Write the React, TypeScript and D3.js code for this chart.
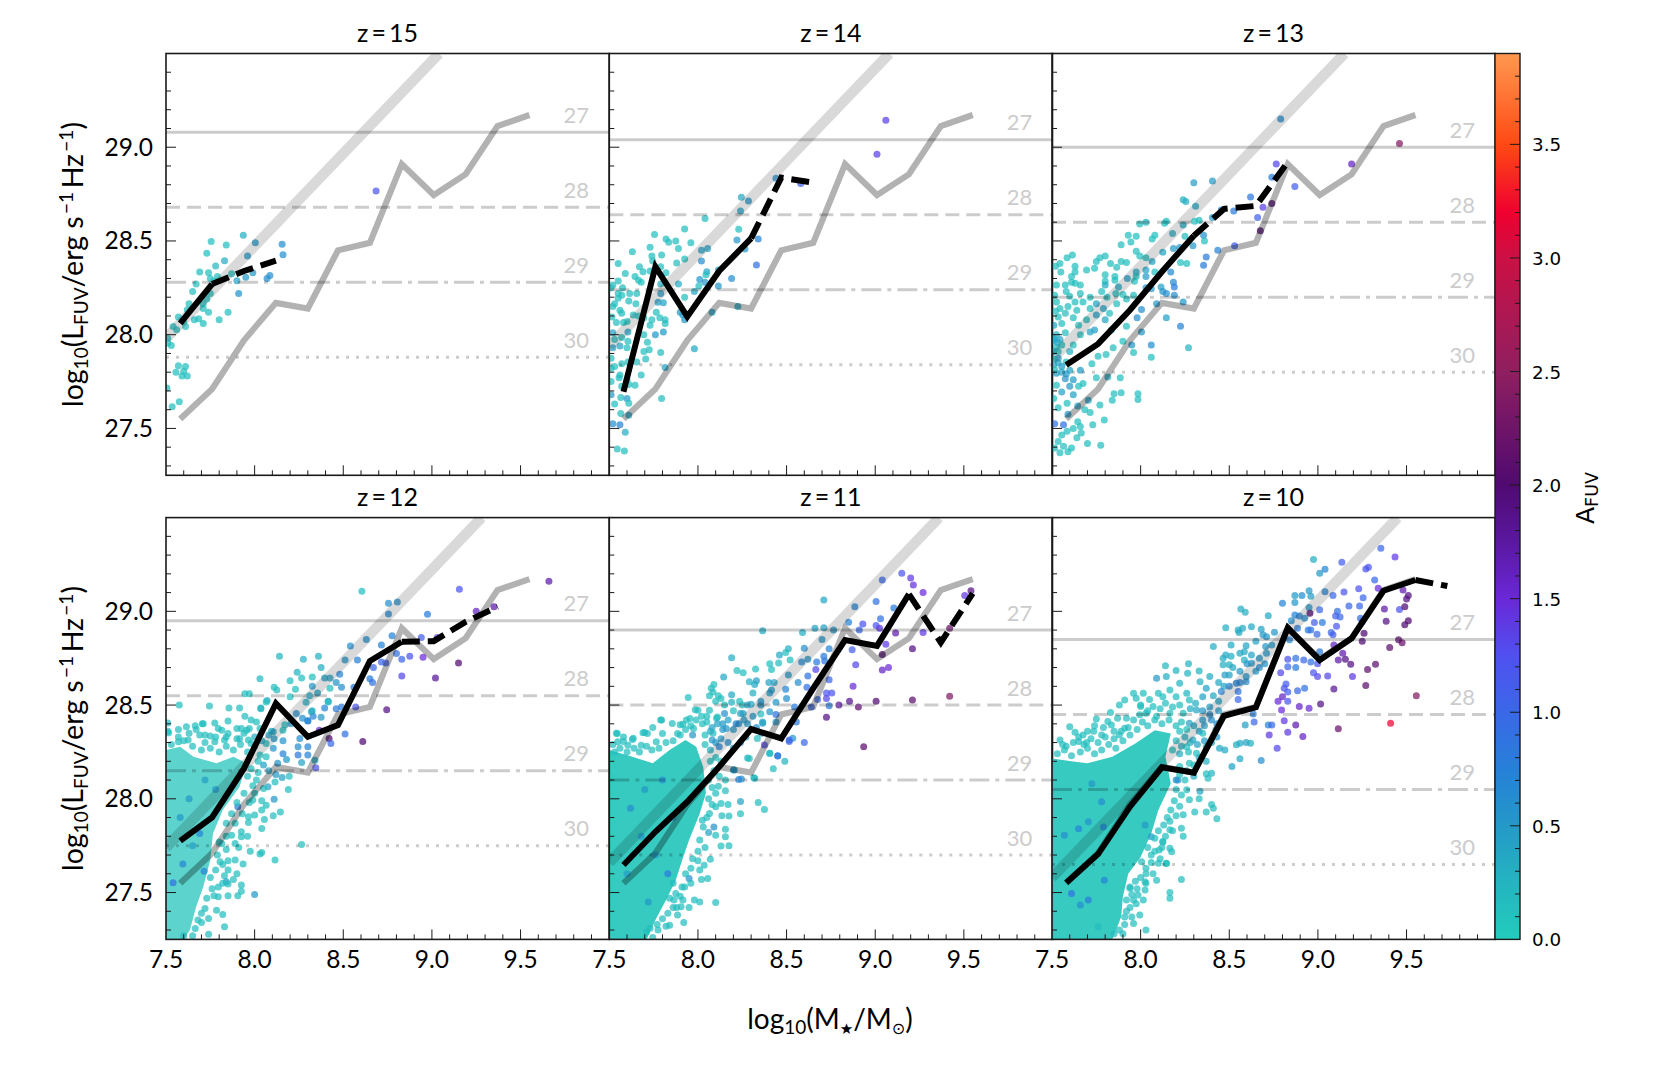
import React from 'react';
import * as d3 from 'd3';

type Pt = number[];

const redshifts = [15, 14, 13, 12, 11, 10];
const xBins = [7.58, 7.76, 7.94, 8.12, 8.30, 8.47, 8.65, 8.83, 9.01, 9.19, 9.37, 9.55, 9.73];

// z=10 median, repeated as the grey reference line in every panel
const refMedian = [27.55, 27.71, 27.97, 28.17, 28.14, 28.45, 28.49, 28.91, 28.745, 28.856, 29.113, 29.172];

const medianZ15 = [28.06, 28.27, 28.34, 28.395];
const medianZ14 = [27.696, 28.363, 28.096, 28.34, 28.514, 28.838, 28.811];
const medianZ13 = [27.839, 27.951, 28.132, 28.336, 28.528, 28.671, 28.687, 28.92];
const medianZ12 = [27.776, 27.901, 28.162, 28.509, 28.331, 28.393, 28.735, 28.838, 28.841, 28.944, 29.024];
const medianZ11 = [27.647, 27.824, 27.984, 28.171, 28.372, 28.322, 28.589, 28.847, 28.816, 29.092, 28.834, 29.096];
const medianZ10 = [27.552, 27.705, 27.958, 28.168, 28.139, 28.443, 28.488, 28.912, 28.74, 28.856, 29.11, 29.167, 29.135];
const medians = [medianZ15, medianZ14, medianZ13, medianZ12, medianZ11, medianZ10];
// how many bins of each median are drawn solid, the rest is dashed
const solidBins = [2, 5, 5, 8, 10, 12];

// magnitude limit lines, one row per panel: 27, 28, 29, 30
const limitNames = ['27', '28', '29', '30'];
const limitDash = ['', '14 7', '20 6 4 6', '3 7'];
const limits = [
  [29.08, 28.68, 28.28, 27.88],
  [29.04, 28.64, 28.24, 27.84],
  [29.0, 28.6, 28.2, 27.8],
  [28.95, 28.55, 28.15, 27.75],
  [28.9, 28.5, 28.1, 27.7],
  [28.85, 28.45, 28.05, 27.65],
];

// broad relation: value at the left edge and mass where it leaves the top
const relationLeft = [27.98, 27.94, 27.87, 27.74, 27.66, 27.58];
const relationTop = [9.04, 9.08, 9.15, 9.28, 9.36, 9.45];

const colorStops = [0, 0.25, 0.5, 0.75, 1.0, 1.25, 1.5, 1.75, 2.0, 2.5, 3.0, 3.2, 3.5, 3.9];
const colorValues = ['#22ccbc', '#24b4c0', '#2499c8', '#2680d8', '#3a68e8', '#5050f0', '#6a28d8', '#5a18a0', '#4f0a70', '#8f1f60', '#cc1044', '#f00030', '#ff4a14', '#ff9850'];

// outlines of the regions where dots merge into a solid mass
const massZ12 = [[7.5, 28.26], [7.58, 28.277], [7.655, 28.224], [7.785, 28.19], [7.88, 28.224], [7.955, 28.19], [7.915, 28.064], [7.82, 27.94], [7.765, 27.815], [7.75, 27.673], [7.71, 27.53], [7.67, 27.424], [7.635, 27.3], [7.6, 27.25], [7.5, 27.25]];
const massZ11 = [[7.5, 28.26], [7.63, 28.224], [7.745, 28.19], [7.84, 28.26], [7.93, 28.313], [7.99, 28.277], [8.03, 28.17], [8.045, 28.03], [8.01, 27.92], [7.95, 27.78], [7.91, 27.67], [7.875, 27.566], [7.82, 27.46], [7.76, 27.353], [7.71, 27.25], [7.5, 27.25]];
const massZ10 = [[7.5, 28.215], [7.63, 28.197], [7.7, 28.19], [7.84, 28.224], [7.97, 28.295], [8.08, 28.366], [8.17, 28.348], [8.14, 28.224], [8.17, 28.08], [8.1, 27.94], [8.06, 27.815], [8.0, 27.69], [7.93, 27.6], [7.9, 27.477], [7.89, 27.37], [7.84, 27.25], [7.5, 27.25]];
const masses: number[][][] = [[], [], [], massZ12, massZ11, massZ10];

// [log mass, log luminosity, A_FUV]; A_FUV left out means the teal end (0.15)
const pointsZ15: Pt[] = [[7.755,28.497],[7.936,28.53,.3],[7.84,28.478],[8.004,28.49,.5],[8.155,28.483,.6],[8.16,28.426,.6],[7.73,28.435],[7.96,28.42,.5],[7.83,28.394,.3],[7.78,28.366,.2],[7.69,28.334],[7.74,28.33],[7.87,28.325],[7.79,28.31],[7.75,28.3],[7.77,28.285],[7.67,28.27],[7.95,28.307,.5],[7.99,28.33,.5],[8.07,28.3,.6],[8.086,28.316,.6],[7.9,28.288,.4],[7.91,28.22,.55],[7.65,28.23],[7.75,28.22],[7.73,28.19],[7.71,28.165],[7.63,28.165],[7.62,28.133],[7.71,28.14],[7.74,28.12],[7.85,28.12],[7.8,28.08],[7.57,28.094],[7.66,28.08],[7.685,28.085],[7.71,28.06],[7.6,28.07],[7.54,28.044],[7.61,28.044],[7.56,28.027],[7.51,27.98],[7.53,27.943],[7.51,27.956],[7.57,27.835],[7.61,27.83],[7.556,27.8],[7.6,27.805],[7.59,27.78],[7.62,27.78],[7.505,27.716],[7.535,27.616],[7.575,27.643],[8.685,28.767,1.2]];

const pointsZ14: Pt[] = [[9.06,29.144,1.35],[9.01,28.962,1.35],[8.44,28.834,.6],[8.58,28.807,1.1],[8.245,28.733,.35],[8.285,28.713,.55],[8.24,28.66,.4],[8.04,28.62],[7.925,28.564],[8.23,28.562],[8.22,28.505,.5],[8.34,28.51,.7],[8.265,28.457,.5],[7.96,28.49],[7.755,28.535],[7.82,28.51],[7.835,28.493],[7.875,28.5],[7.89,28.46],[8.02,28.45,.4],[8.055,28.46,.4],[7.73,28.466],[7.63,28.443],[7.74,28.42],[7.795,28.425],[7.745,28.393],[7.925,28.404],[8.02,28.393,.6],[7.88,28.383],[7.55,28.38],[7.67,28.363],[7.79,28.363],[8.33,28.372,.9],[7.69,28.336],[7.73,28.34],[7.645,28.31],[7.82,28.33],[7.59,28.326],[8.05,28.336,.4],[8.045,28.32],[8.115,28.345,.4],[7.665,28.29],[7.68,28.28],[7.55,28.287],[8.01,28.295,.5],[8.04,28.28,.5],[8.19,28.3,.6],[7.52,28.265],[7.79,28.27,.3],[7.89,28.27,.3],[8.115,28.26,.5],[8.005,28.26],[7.51,28.25],[7.575,28.25],[7.98,28.23,.35],[7.55,28.22],[7.615,28.22],[7.655,28.22],[7.79,28.22,.5],[7.57,28.21],[7.925,28.2],[7.55,28.195],[7.61,28.18],[7.65,28.165],[7.53,28.165],[7.52,28.15],[7.775,28.173,.45],[7.805,28.17,.4],[8.225,28.15,.35],[7.56,28.13],[7.57,28.115],[7.765,28.12],[7.9,28.12,.5],[7.915,28.105,.5],[8.08,28.12,.4],[7.635,28.105],[7.665,28.1],[7.515,28.095],[7.695,28.09],[7.785,28.09],[7.925,28.08,.5],[7.74,28.08],[7.54,28.065],[7.58,28.065],[7.815,28.08],[7.815,28.06],[7.6,28.07],[7.73,28.05],[7.76,28.0,.5],[7.805,28.015,.5],[7.695,28.0],[7.52,28.01,.4],[7.57,27.985],[7.605,28.015,.4],[7.715,27.96],[7.605,27.965],[7.53,27.975],[7.52,27.93,.4],[7.56,27.94,.4],[7.6,27.93],[7.725,27.92],[7.98,27.925,.35],[7.695,27.91],[7.79,27.905],[7.51,27.875],[7.705,27.87],[7.655,27.855],[7.605,27.855],[7.53,27.83],[7.57,27.845],[7.815,27.825,.4],[7.51,27.82],[7.68,27.785],[7.56,27.785],[7.555,27.77],[7.51,27.75],[7.6,27.76],[7.61,27.735],[7.645,27.73],[7.57,27.725],[7.51,27.68,.5],[7.565,27.665],[7.6,27.66,.5],[7.795,27.66],[7.53,27.63],[7.61,27.635],[7.565,27.58],[7.61,27.57,.4],[7.52,27.525,.6],[7.56,27.52,.7],[7.59,27.48,.3],[7.545,27.39],[7.585,27.38]];

const pointsZ13: Pt[] = [[8.79,29.15,.65],[8.765,28.91,1.3],[9.19,28.91,1.6],[9.46,29.02,2.4],[8.87,28.79,1.1],[8.74,28.84,.75],[8.62,28.735,.85],[8.3,28.81,.45],[8.405,28.82,.5],[8.24,28.72,.3],[8.255,28.71,.3],[8.31,28.685,.35],[8.455,28.665,.7],[8.525,28.66,.8],[8.69,28.68,1.35],[8.74,28.7,2.0],[8.66,28.625,1.1],[8.405,28.625,.5],[8.675,28.555,2.0],[8.53,28.475,1.1],[8.03,28.6,.25],[8.145,28.605],[7.995,28.59],[8.135,28.595],[8.24,28.585,.35],[8.305,28.605],[8.33,28.61],[8.18,28.54,.3],[7.93,28.53],[7.975,28.525],[8.08,28.53],[8.065,28.51],[8.25,28.525],[8.355,28.53,.6],[8.36,28.5],[7.89,28.48],[7.945,28.495],[8.185,28.46,.5],[8.22,28.465,.5],[8.295,28.475,.5],[8.435,28.45,.7],[7.975,28.445],[8.125,28.44,.4],[8.37,28.415,.8],[8.355,28.37,.8],[8.225,28.385],[8.26,28.38],[7.995,28.42],[8.03,28.41],[8.065,28.39,.4],[7.615,28.425],[7.585,28.41],[7.8,28.42],[7.77,28.41],[7.75,28.39],[7.89,28.39],[7.92,28.385],[7.83,28.38],[7.545,28.38],[7.52,28.365],[7.63,28.365],[7.865,28.36],[7.74,28.355],[7.695,28.345],[7.55,28.335],[7.63,28.335],[7.975,28.335,.35],[8.03,28.345,.4],[8.08,28.335],[8.17,28.335,.65],[7.61,28.31],[7.8,28.32],[7.855,28.31],[7.925,28.3,.45],[7.975,28.31],[7.8,28.285],[7.855,28.29],[7.965,28.285],[8.03,28.31,.5],[8.185,28.28,.65],[7.525,28.265],[7.575,28.265],[7.63,28.275],[7.66,28.265],[7.61,28.28],[8.19,28.255,.8],[7.8,28.265,.35],[7.875,28.255,.35],[8.115,28.255,.4],[8.03,28.25,.5],[8.06,28.245,.5],[8.125,28.23,.55],[8.19,28.21,.6],[8.145,28.22,.6],[7.58,28.23],[7.66,28.22],[7.78,28.23],[7.86,28.22],[7.9,28.215],[7.96,28.21],[7.515,28.21],[7.6,28.205],[7.715,28.2],[7.81,28.2],[7.92,28.19],[7.525,28.175],[7.63,28.175],[7.675,28.175],[7.75,28.165,.4],[7.865,28.165],[8.09,28.165,.5],[8.24,28.175,.5],[7.545,28.14],[7.59,28.15],[7.64,28.13],[7.715,28.14],[7.79,28.14,.4],[8.005,28.135,.6],[7.52,28.125],[7.575,28.115],[7.75,28.105,.4],[7.825,28.115],[7.98,28.09,.6],[8.145,28.09,.4],[7.535,28.095],[7.62,28.09],[7.695,28.08],[7.8,28.08,.35],[7.92,28.045],[7.555,28.06],[7.51,28.05,.4],[7.65,28.05],[7.74,28.025,.45],[7.835,28.025],[8.005,28.015,.5],[8.225,28.045,.7],[7.525,28.0,.3],[7.575,28.01],[7.66,28.0],[7.715,28.015,.4],[7.51,27.98,.3],[7.545,27.975,.4],[7.9,27.965],[7.95,27.945,.5],[8.06,27.945,.6],[7.62,27.945],[7.525,27.935],[7.845,27.93],[8.27,27.93,.25],[7.96,27.905],[7.6,27.91,.3],[7.805,27.895],[7.76,27.885],[8.06,27.88],[7.535,27.875,.5],[7.58,27.855],[7.51,27.84,.3],[7.555,27.83,.5],[7.725,27.845],[7.6,27.81,.4],[7.66,27.81,.5],[7.525,27.795,.5],[7.815,27.775,.3],[7.885,27.77],[7.75,27.77],[7.575,27.765,.5],[7.62,27.76,.5],[7.675,27.74],[7.525,27.73],[7.6,27.725,.5],[7.65,27.725],[7.555,27.695,.4],[7.89,27.69],[7.985,27.685],[7.85,27.685],[7.62,27.68,.4],[7.51,27.66],[7.985,27.655],[7.84,27.65],[7.585,27.635],[7.705,27.65,.4],[7.535,27.61],[7.77,27.625],[7.645,27.62,.4],[7.685,27.6],[7.715,27.585],[7.59,27.575,.5],[7.515,27.525,.9],[7.565,27.52,.9],[7.795,27.545],[7.645,27.535],[7.66,27.51],[7.73,27.52],[7.62,27.5],[7.585,27.485],[7.665,27.475],[7.555,27.465],[7.64,27.45],[7.7,27.42],[7.775,27.41],[7.535,27.43],[7.565,27.405],[7.61,27.395],[7.515,27.395],[7.59,27.375],[7.545,27.37],[7.51,27.97,.35],[7.53,27.96,.4],[7.555,27.945],[7.51,27.91,.4],[7.535,27.91],[7.51,27.87],[7.535,27.85,.4],[7.515,27.815],[7.555,27.8,.4],[7.58,27.79,.5]];

const pointsZ12: Pt[] = [[8.605,29.107,.15],[9.155,29.118,1.2],[8.755,29.043,.6],[8.805,29.05,.6],[9.66,29.16,1.7],[9.25,29.0,1.6],[8.755,28.986,.65],[8.975,28.985,.8],[9.35,29.025,1.7],[8.775,28.87,.7],[8.94,28.86,1.1],[9.03,28.86,1.3],[8.63,28.85,.6],[8.715,28.82,.7],[8.54,28.815,.6],[8.8,28.775,.9],[8.14,28.76,.25],[8.36,28.76,.3],[8.275,28.745,.3],[8.83,28.745,1.0],[8.875,28.76,1.2],[8.95,28.755,1.5],[9.15,28.725,2.0],[8.51,28.74,.55],[8.58,28.74,.75],[8.715,28.73,1.0],[8.74,28.725,1.1],[8.375,28.7,.3],[8.67,28.7,1.0],[8.48,28.665,.7],[8.24,28.675,.25],[8.83,28.655,1.3],[9.02,28.645,1.8],[8.03,28.64,.2],[8.265,28.645],[8.325,28.65],[8.395,28.645,.4],[8.425,28.645,.4],[8.65,28.64,.8],[8.665,28.62,.9],[8.2,28.63],[8.46,28.62,.55],[8.325,28.6,.5],[8.49,28.595,.6],[8.56,28.595,.8],[8.11,28.595],[8.125,28.58],[8.23,28.585],[8.425,28.59],[7.97,28.56],[7.945,28.56],[8.355,28.565,.4],[8.31,28.55,.35],[8.29,28.515,.3],[8.2,28.545],[8.07,28.525,.35],[8.415,28.52,.55],[7.575,28.5],[7.745,28.495],[7.855,28.485],[7.915,28.485],[8.035,28.485,.4],[8.395,28.485,.7],[8.46,28.48,.8],[8.49,28.49,.8],[8.57,28.49,1.2],[8.745,28.475,1.9],[8.325,28.47,.25],[8.235,28.455,.6],[8.17,28.395],[7.945,28.44],[8.01,28.41],[7.85,28.415],[7.775,28.405],[7.71,28.4],[7.665,28.39],[7.615,28.385],[7.57,28.37],[7.51,28.405],[7.51,28.36],[8.33,28.44,.7],[8.3,28.415,.7],[8.375,28.435,.5],[8.27,28.43,.6],[8.095,28.36,.25],[7.795,28.375],[7.815,28.365],[7.9,28.375],[7.97,28.375],[7.67,28.37],[7.705,28.4],[7.69,28.34],[7.625,28.313],[7.57,28.304],[7.515,28.352],[7.75,28.335],[7.72,28.3],[7.85,28.348],[7.83,28.313],[7.775,28.304],[7.98,28.42],[7.925,28.375],[7.955,28.366],[8.03,28.375],[7.965,28.313],[7.915,28.32],[7.98,28.295],[8.065,28.295],[8.105,28.357,.4],[8.16,28.366],[8.205,28.4,.5],[8.065,28.517],[8.035,28.48],[8.32,28.464,.35],[8.3,28.416,.7],[8.415,28.517],[8.51,28.345,.9],[8.365,28.366,1.5],[8.42,28.322,2.0],[8.43,28.295,1.0],[8.61,28.306,2.0],[8.255,28.322,.6],[8.245,28.277,.6],[8.3,28.277,.7],[8.245,28.233,.8],[8.3,28.233,.7],[8.265,28.194,.4],[8.34,28.206,.35],[8.345,28.165,1.2],[8.105,28.27,.55],[8.16,28.24,.7],[8.18,28.21,.5],[8.13,28.19,.55],[8.065,28.224],[8.03,28.233],[8.01,28.1],[8.115,28.09],[8.155,28.114,.4],[8.195,28.12],[8.19,28.05],[8.075,28.064,.4],[8.05,28.055],[7.99,27.993],[8.11,27.998,.5],[8.065,27.966],[8.145,27.93],[8.105,27.91],[8.04,27.94],[8.0,27.913],[8.055,27.89],[7.965,27.904],[7.965,27.874],[8.04,27.842],[7.925,27.824],[7.925,27.797],[7.87,27.806],[7.815,27.76],[7.89,27.762],[8.265,27.756],[7.975,27.72],[8.04,27.714],[8.03,27.705],[8.115,27.673],[7.935,27.652],[7.89,27.673],[7.85,27.67],[7.805,27.664],[7.83,27.59],[7.84,27.557,.5],[7.88,27.57],[7.85,27.545],[7.795,27.53],[7.925,27.54],[7.925,27.507],[7.905,27.483],[7.85,27.483],[7.795,27.477],[7.77,27.483],[8.0,27.49,.5],[7.785,27.406],[7.82,27.383],[7.74,27.362],[7.68,27.353],[7.72,27.415],[7.83,27.317],[7.665,27.308],[7.74,27.278],[7.54,27.552,.9],[7.595,27.652,.7],[7.715,27.614,.7],[7.69,27.815,.7],[7.905,27.957,.8],[7.63,28.0,.5],[7.72,28.1,.45],[7.58,27.9,.5],[7.78,28.05,.5],[7.65,27.75,.45]];
const edgeZ12: Pt[] = [[7.53,28.29],[7.6,28.31],[7.65,28.28],[7.7,28.26],[7.75,28.27],[7.8,28.25],[7.84,28.28],[7.88,28.26],[7.92,28.29],[7.96,28.25],[8.0,28.28],[8.02,28.2],[7.98,28.16],[8.02,28.14],[7.96,28.12],[7.99,28.07],[7.94,28.03],[7.97,27.98],[7.9,27.98],[7.87,27.92],[7.93,27.92],[7.84,27.87],[7.89,27.87],[7.84,27.8],[7.8,27.77],[7.84,27.73],[7.79,27.7],[7.82,27.65],[7.78,27.62],[7.75,27.58],[7.76,27.52],[7.73,27.47],[7.7,27.39],[7.7,27.34],[7.65,27.27],[7.6,27.27],[7.57,28.33],[7.63,28.35],[7.72,28.34],[7.78,28.33],[7.84,28.33],[7.9,28.32],[7.94,28.35],[8.0,28.33,.3],[8.04,28.31,.4],[8.08,28.34,.4],[8.11,28.32,.5],[8.16,28.31,.55],[8.08,28.15,.4],[8.05,28.18,.4],[8.12,28.13,.5],[8.0,28.03],[8.04,27.99],[7.96,27.8],[7.91,27.74],[7.85,27.62],[7.9,27.6],[7.82,27.55]];

const pointsZ11: Pt[] = [[9.15,29.203,1.2],[9.2,29.178,1.4],[9.215,29.14,1.45],[9.27,29.1,1.5],[9.04,29.167,1.0],[8.71,29.06,.35],[9.005,29.052,.9],[8.885,29.025,.7],[9.105,29.018,.8],[9.54,29.11,1.9],[9.505,29.084,1.4],[9.03,28.96,.9],[8.85,28.942,.7],[8.93,28.933,1.2],[9.005,28.925,1.2],[9.025,28.91,1.4],[8.365,28.897,.35],[8.66,28.91,.4],[8.71,28.913,.4],[8.765,28.9,.5],[8.59,28.887,.3],[8.91,28.9,1.0],[9.115,28.885,1.7],[9.27,28.887,1.4],[9.42,28.91,2.2],[8.7,28.85,.55],[9.06,28.825,1.4],[8.87,28.795,1.1],[8.74,28.8,.7],[8.6,28.803,.6],[9.21,28.8,1.9],[9.04,28.77,2.0],[8.51,28.8,.3],[8.495,28.78],[8.46,28.767,.35],[8.19,28.753,.3],[8.71,28.76,.8],[8.585,28.73,.65],[8.62,28.745,.55],[8.67,28.73,.8],[8.715,28.735,.8],[8.89,28.715,1.3],[9.075,28.7,1.5],[9.04,28.687,1.6],[8.405,28.72],[8.455,28.725],[8.52,28.74],[8.415,28.69],[8.665,28.69,1.3],[8.22,28.685],[8.255,28.673],[8.325,28.693],[8.145,28.65,.35],[8.51,28.66,.5],[8.62,28.655,.9],[8.74,28.635,1.0],[8.565,28.62,.6],[8.29,28.625,.3],[8.33,28.63,.45],[8.4,28.62,.4],[8.43,28.62,.4],[8.875,28.6,1.5],[8.09,28.61],[8.075,28.59],[8.32,28.61,.35],[8.495,28.585,.7],[8.615,28.595,.9],[8.415,28.58,.5],[8.31,28.565,.3],[8.085,28.57],[8.19,28.555,.35],[8.405,28.565,.5],[8.725,28.565,1.2],[8.755,28.565,1.2],[8.115,28.55],[7.945,28.54],[8.065,28.55],[8.13,28.535],[8.725,28.535,1.3],[8.5,28.535,.6],[8.675,28.53,1.0],[8.855,28.52,1.8],[9.005,28.52,2.0],[9.21,28.527,2.1],[9.42,28.547,2.4],[8.905,28.49,2.1],[8.795,28.5,1.8],[8.74,28.497,.8],[8.64,28.49,1.0],[8.19,28.515,.3],[8.235,28.52],[8.3,28.505,.35],[8.355,28.52,.5],[8.44,28.515,.5],[8.545,28.49,.8],[7.985,28.475],[8.05,28.44],[8.405,28.465,.5],[8.255,28.455,.4],[8.725,28.435,1.9],[7.935,28.42],[7.795,28.42],[8.355,28.453],[8.105,28.43],[8.365,28.403,.5],[8.44,28.41,.5],[8.555,28.41,.8],[7.745,28.38],[7.7,28.353],[7.635,28.323],[7.54,28.35],[7.58,28.305],[7.9,28.395],[7.975,28.375],[8.085,28.35],[8.16,28.375,.5],[8.535,28.323,.5],[8.515,28.305,1.0],[8.6,28.3,1.0],[8.375,28.287,1.3],[8.935,28.278,2.1],[8.405,28.243,.3],[8.45,28.23,.8],[8.49,28.2,.25],[8.28,28.217,.25],[8.425,28.16,.15],[8.2,28.154,.5],[8.245,28.105,.6],[8.32,28.11,.3],[8.155,28.043],[8.115,28.067],[8.24,27.985,.4],[8.34,27.98],[8.375,27.943],[8.24,27.92],[8.17,27.97],[8.13,27.975],[8.1,27.957],[8.135,27.91],[8.175,27.908],[8.065,27.922],[8.025,27.886],[8.09,27.85,.55],[8.155,27.838],[8.1,27.806],[8.155,27.797],[8.13,27.748],[8.175,27.75],[8.07,27.678],[8.035,27.646],[8.01,27.62],[8.055,27.575],[8.02,27.57],[8.1,27.447],[8.01,27.45],[7.98,27.46],[7.95,27.42],[7.905,27.424],[7.915,27.46],[7.865,27.46],[7.95,27.575,.6],[7.925,27.53],[7.92,27.34],[7.885,27.38],[7.84,27.326],[7.82,27.32],[7.775,27.3],[7.71,27.29],[7.745,27.26],[7.83,27.6,.8],[7.86,27.55],[7.875,27.495],[7.545,28.348],[7.58,28.33],[7.548,28.304],[7.63,28.316],[7.69,28.352],[7.715,28.348],[7.79,28.42],[7.8,28.348],[7.855,28.402],[7.885,28.348],[7.915,28.398],[7.955,28.428],[7.765,28.304],[7.68,28.286],[7.53,28.25],[7.605,28.286],[8.0,28.473],[8.065,28.473],[8.11,28.437],[7.97,28.34,.5],[8.025,28.4],[8.08,28.313,.5],[8.14,28.4,.5],[8.15,28.455,.6],[8.12,28.277,.7],[8.215,28.4,.7],[8.24,28.455,.45],[8.28,28.5,.45],[8.355,28.5,.5],[8.29,28.215],[8.205,28.153,.5],[8.155,28.1],[8.23,28.103,.7],[8.315,28.112],[8.45,28.228,.8],[8.405,28.242],[8.515,28.313,1.0],[8.335,28.322],[8.365,28.41,.4],[8.44,28.45,.9],[7.62,27.95,.6],[7.7,28.05,.5],[7.8,28.1,.6],[7.68,27.8,.5],[7.86,27.9,.5],[7.76,27.7,.5],[7.6,27.6,.45],[7.72,27.45,.5]];
const edgeZ11: Pt[] = [[7.52,28.29],[7.56,28.27],[7.6,28.25],[7.64,28.27],[7.67,28.25],[7.71,28.28],[7.74,28.26],[7.78,28.27],[7.82,28.3],[7.86,28.31],[7.9,28.34],[7.93,28.37],[7.96,28.39],[7.99,28.42],[8.02,28.44],[8.05,28.41],[8.08,28.38,.4],[8.11,28.4,.4],[8.14,28.37,.5],[8.17,28.42,.4],[8.2,28.37,.5],[8.23,28.4,.6],[8.26,28.42,.5],[8.04,28.34],[8.07,28.36,.3],[8.04,28.29],[8.07,28.26,.3],[8.1,28.3,.5],[8.13,28.32,.5],[8.17,28.3,.6],[8.2,28.27,.5],[8.24,28.3,.6],[8.27,28.33,.5],[8.1,28.22],[8.07,28.2],[8.13,28.2],[8.09,28.15],[8.12,28.12],[8.06,28.1],[8.08,28.06],[8.1,28.03],[8.06,28.0],[8.08,27.97],[8.05,27.9],[8.03,27.85],[8.06,27.82,.4],[8.01,27.78],[8.04,27.74],[8.0,27.72],[7.97,27.68],[8.0,27.67],[7.96,27.63],[7.93,27.6],[7.96,27.55],[7.91,27.53],[7.9,27.48],[7.86,27.42],[7.83,27.39],[7.8,27.36],[7.77,27.33],[7.73,27.31],[7.84,27.47],[7.88,27.42],[8.28,28.4,.5],[8.31,28.44,.5],[8.2,28.47],[8.25,28.5],[8.15,28.5],[8.1,28.52],[8.33,28.38,.6],[8.36,28.35,.5]];

const pointsZ10: Pt[] = [[9.355,29.336,1.0],[9.435,29.29,1.4],[8.975,29.276,.3],[9.135,29.262,1.1],[9.04,29.224,.7],[9.01,29.203,.5],[9.27,29.226,1.2],[9.285,29.235,1.2],[9.32,29.167,1.0],[9.34,29.123,1.5],[9.23,29.12,1.2],[9.147,29.103,1.2],[9.04,29.105,.7],[8.95,29.11,.5],[8.87,29.084,.5],[8.91,29.084,.6],[8.96,29.08,.45],[9.085,29.084,1.0],[9.255,29.073,1.0],[9.48,29.114,1.7],[9.51,29.084,1.9],[9.5,29.066,1.9],[8.8,29.043,.7],[8.87,29.047,.5],[9.175,29.029,1.0],[9.235,29.029,1.0],[8.565,29.013,.3],[8.59,28.995,.3],[8.72,28.977,.35],[8.95,29.02,.5],[9.01,29.008,1.0],[9.375,29.013,1.7],[9.46,29.01,1.2],[9.49,29.025,2.0],[8.955,28.99,2.0],[9.11,29.0,.9],[9.1,28.975,1.1],[9.125,28.97,1.0],[8.87,28.98,.7],[8.895,28.975,.7],[8.925,28.963,.6],[8.85,28.95,.6],[8.98,28.94,1.1],[9.025,28.94,.8],[9.24,28.963,.9],[9.51,28.95,2.0],[9.385,28.947,1.9],[9.49,28.928,2.0],[9.105,28.92,1.2],[8.885,28.91,.8],[8.945,28.9,.8],[8.96,28.9,.9],[8.995,28.878,1.0],[9.075,28.887,1.0],[9.085,28.875,1.1],[9.26,28.883,2.0],[9.25,28.945,1.3],[8.48,28.913,.3],[8.55,28.9,.35],[8.575,28.91,.35],[8.625,28.918,.35],[8.68,28.905,.4],[8.755,28.888,.5],[8.555,28.887,.35],[8.69,28.875,.5],[8.71,28.865,.5],[9.25,28.84,2.0],[9.455,28.848,2.1],[9.475,28.833,2.2],[8.41,28.812,.3],[8.51,28.82,.35],[8.595,28.817,.4],[8.65,28.84,.4],[8.705,28.812,.5],[8.74,28.82,.5],[8.84,28.848,.7],[9.405,28.807,2.1],[9.09,28.82,1.6],[9.01,28.785,.8],[8.585,28.785,.35],[8.48,28.767,.35],[8.56,28.777,.35],[8.625,28.767,.4],[8.71,28.777,.5],[9.14,28.777,1.7],[8.465,28.75,.3],[8.51,28.76,.3],[8.585,28.74,.3],[8.67,28.75,.5],[8.83,28.745,1.2],[8.875,28.75,.9],[8.92,28.74,1.0],[8.96,28.73,.9],[9.115,28.74,1.7],[9.155,28.745,1.9],[8.27,28.72,.25],[8.14,28.71,.2],[8.465,28.715,.3],[8.5,28.715,.3],[8.625,28.723,.5],[8.83,28.705,1.0],[8.875,28.7,.8],[8.998,28.72,1.2],[9.185,28.718,1.9],[9.325,28.718,2.1],[8.2,28.684,.25],[8.145,28.652,.3],[8.09,28.643,.5],[8.265,28.67,.25],[8.33,28.682,.25],[9.28,28.69,2.1],[8.79,28.673,1.3],[8.975,28.673,1.2],[8.998,28.652,1.3],[9.055,28.655,1.3],[9.195,28.652,1.4],[8.475,28.66,.45],[8.39,28.652,.35],[8.595,28.652,.5],[8.54,28.616,.7],[8.595,28.625,.6],[8.335,28.625,.3],[8.22,28.616,.25],[8.82,28.613,1.1],[9.27,28.604,2.1],[8.81,28.59,1.2],[8.925,28.59,.9],[8.885,28.577,1.0],[9.09,28.586,1.8],[8.83,28.57,1.1],[8.37,28.59,.4],[8.455,28.572,.7],[8.55,28.572,.9],[9.555,28.55,2.4],[7.96,28.563],[8.015,28.563],[7.88,28.5],[7.91,28.527],[7.975,28.536],[8.05,28.53],[8.1,28.563],[8.165,28.58],[8.26,28.563,.25],[8.8,28.545,1.6],[8.775,28.52,1.5],[8.83,28.52,1.2],[8.55,28.53,1.0],[9.015,28.506,1.9],[8.895,28.492,1.6],[8.95,28.483,1.5],[8.795,28.474,1.5],[8.635,28.453,.8],[8.0,28.492],[8.07,28.492],[7.75,28.426],[7.815,28.412],[7.6,28.385],[7.63,28.355],[7.675,28.34],[7.735,28.36],[7.78,28.34],[7.835,28.394],[7.88,28.34],[7.91,28.376],[7.545,28.314],[7.58,28.28],[7.65,28.305],[7.695,28.3],[7.995,28.448],[7.96,28.42],[8.64,28.41,1.0],[8.59,28.394,.45],[8.81,28.416,1.4],[8.72,28.394,.7],[8.74,28.394,1.0],[8.875,28.394,1.7],[9.115,28.373,2.2],[9.41,28.403,3.2],[8.83,28.355,1.4],[8.725,28.34,1.4],[8.915,28.332,1.6],[8.77,28.27,1.3],[8.56,28.296,.35],[8.595,28.3,.4],[8.62,28.296,.3],[8.54,28.288,.3],[8.445,28.27,.35],[8.475,28.26,.35],[8.56,28.213,.35],[8.68,28.204,.6],[8.515,28.172,.4],[8.4,28.136,.25],[8.37,28.133],[8.38,28.11],[8.125,28.545],[8.2,28.545],[8.275,28.527],[8.35,28.545,.4],[8.39,28.49,.5],[8.315,28.474,.35],[8.24,28.456],[8.165,28.456],[8.09,28.44],[8.03,28.456],[8.35,28.42,.5],[8.275,28.403,.4],[8.425,28.368,.5],[8.35,28.35],[8.295,28.314,.35],[8.37,28.278,.3],[8.315,28.243],[8.26,28.278],[8.275,28.19],[8.22,28.172],[8.2,28.1,.5],[8.26,28.048],[8.335,28.04,.35],[8.275,27.995],[8.33,28.0],[8.4,27.97],[8.41,27.95],[8.37,27.93],[8.43,27.893],[8.305,27.93],[8.24,27.915],[8.23,27.843],[8.24,27.8],[8.165,27.88],[8.165,27.835],[8.125,27.772],[8.165,27.736],[8.105,27.727],[8.1,27.656],[8.145,27.656],[8.23,27.57],[8.165,27.5],[8.165,27.47],[8.03,27.55],[8.025,27.514],[7.985,27.487],[7.94,27.523],[8.03,27.3],[7.995,27.38],[8.015,27.46],[8.025,27.557],[8.09,27.566],[8.145,27.655],[8.11,27.68],[8.175,27.717],[8.125,27.77],[8.06,27.7],[7.96,27.335],[7.91,27.37],[7.975,27.44],[7.94,27.53],[7.92,27.46],[7.76,27.317,.15],[8.005,27.664],[7.61,27.495,.9],[7.705,27.46,.8],[7.65,27.84,.7],[7.79,27.85,.7],[7.57,27.806,.6],[7.725,28.08,.5],[7.78,27.984,.6],[7.705,27.877,.55],[7.795,27.566,.7],[7.66,27.433,.6],[8.025,27.86,.5],[8.06,27.797,.5],[8.21,28.1,.6]];
const edgeZ10: Pt[] = [[7.53,28.24],[7.57,28.26],[7.61,28.23],[7.66,28.25],[7.7,28.27],[7.74,28.24],[7.78,28.26],[7.82,28.29],[7.86,28.27],[7.9,28.31],[7.94,28.34],[7.56,28.29],[7.62,28.3],[7.68,28.29],[7.72,28.32],[7.76,28.3],[7.8,28.33],[7.85,28.32],[7.89,28.36],[7.93,28.38],[7.98,28.37],[8.01,28.41],[8.04,28.39],[8.08,28.42],[8.12,28.4],[8.16,28.42],[8.2,28.39],[8.23,28.41],[8.26,28.37],[8.3,28.39,.35],[8.33,28.36,.4],[8.36,28.39,.5],[8.4,28.42,.6],[8.43,28.4,.6],[8.22,28.36],[8.25,28.33,.3],[8.2,28.31],[8.23,28.28,.3],[8.28,28.3,.3],[8.32,28.29,.4],[8.36,28.31,.45],[8.4,28.3,.4],[8.43,28.33,.5],[8.18,28.26],[8.22,28.24,.3],[8.27,28.25],[8.33,28.22,.3],[8.37,28.2,.3],[8.3,28.18],[8.26,28.15],[8.22,28.13],[8.25,28.1],[8.3,28.12,.3],[8.2,28.05],[8.23,28.02],[8.19,27.99],[8.22,27.96],[8.17,27.94],[8.2,27.91],[8.15,27.9],[8.13,27.86],[8.18,27.83],[8.1,27.83],[8.14,27.8],[8.08,27.79],[8.12,27.74],[8.08,27.72],[8.04,27.74],[8.06,27.66],[8.03,27.63],[8.07,27.6],[8.03,27.6],[8.0,27.58],[7.97,27.56],[7.98,27.52],[7.95,27.49],[7.96,27.46],[7.94,27.42],[7.92,27.4],[7.95,27.37],[7.91,27.33],[7.88,27.3],[7.85,27.28],[7.9,27.28],[8.0,28.5],[8.04,28.47],[8.11,28.48],[8.14,28.51],[8.18,28.49],[8.22,28.5],[8.28,28.48,.3],[8.31,28.51,.3],[8.35,28.47,.5],[8.39,28.45,.6],[8.44,28.47,.5],[8.44,28.52,.4],[8.41,28.55,.35],[8.47,28.6,.4],[8.44,28.62,.35],[8.5,28.66,.4],[8.52,28.7,.35],[8.56,28.68,.5],[8.6,28.72,.55],[8.65,28.68,.5],[8.67,28.7,.6],[8.7,28.72,.55],[8.56,28.62,.7],[8.5,28.6,.7],[7.65,28.33],[7.7,28.36],[7.74,28.39],[7.79,28.38],[7.85,28.36],[7.92,28.43],[7.87,28.43],[7.83,28.46]];

const pointsByPanel = [pointsZ15, pointsZ14, pointsZ13, pointsZ12.concat(edgeZ12), pointsZ11.concat(edgeZ11), pointsZ10.concat(edgeZ10)];

const xMajor = [7.5, 8.0, 8.5, 9.0, 9.5];
const yMajor = [27.5, 28.0, 28.5, 29.0];
const cbMajor = [0, 0.5, 1.0, 1.5, 2.0, 2.5, 3.0, 3.5];

const LABEL_FONT = 'Lato, "DejaVu Sans", sans-serif';
const CB_FONT = '"DejaVu Sans", sans-serif';
const panelW = 443.2;
const panelH = 421.8;
const lefts = [166, 609.3, 1052];
const tops = [53.5, 517.6];
const cbLeft = 1495;
const cbW = 25;

const color = d3.scaleLinear<string>().domain(colorStops).range(colorValues).clamp(true);

function Panel({ idx }: { idx: number }) {
  const col = idx % 3;
  const row = Math.floor(idx / 3);
  const left = lefts[col];
  const top = tops[row];
  const x = d3.scaleLinear().domain([7.5, 10]).range([left, left + panelW]);
  const y = d3.scaleLinear().domain([27.25, 29.5]).range([top + panelH, top]);
  const line = d3.line<number>().x((_, i) => x(xBins[i])).y(d => y(d));
  const clipId = `clip-${idx}`;
  const median = medians[idx];
  const solid = solidBins[idx];
  const massPath = d3.line<number[]>().x(d => x(d[0])).y(d => y(d[1]));
  // dashed part keeps its real bin positions
  const dashedPath = d3.line<number>().x((_, i) => x(xBins[i + solid - 1])).y(d => y(d));

  return (
    <g>
      <clipPath id={clipId}>
        <rect x={left} y={top} width={panelW} height={panelH} />
      </clipPath>
      <g clipPath={`url(#${clipId})`}>
        {masses[idx].length > 0 && (
          <path d={massPath(masses[idx]) + 'Z'} fill="#26c5bc" fillOpacity={idx === 3 ? 0.75 : 0.92} />
        )}
        {pointsByPanel[idx].map((p, i) => (
          <circle key={i} cx={x(p[0])} cy={y(p[1])} r={3.5} fill={color(p.length > 2 ? p[2] : 0.15)} fillOpacity={0.72} />
        ))}
        {limits[idx].map((v, i) => (
          <line key={i} x1={left} x2={left + panelW} y1={y(v)} y2={y(v)} stroke="#000" strokeOpacity={0.2} strokeWidth={3} strokeDasharray={limitDash[i]} />
        ))}
        <line x1={x(7.5)} y1={y(relationLeft[idx])} x2={x(relationTop[idx])} y2={y(29.5)} stroke="#000" strokeOpacity={0.15} strokeWidth={10.5} />
        <path d={line(refMedian) || ''} fill="none" stroke="#000" strokeOpacity={0.3} strokeWidth={6.2} />
        <path d={line(median.slice(0, solid)) || ''} fill="none" stroke="#000" strokeWidth={6} />
        <path d={dashedPath(median.slice(solid - 1)) || ''} fill="none" stroke="#000" strokeWidth={6} strokeDasharray="18 8" />
      </g>
      {limits[idx].map((v, i) => (
        <text key={i} x={x(9.814)} y={y(v) - 9.5} textAnchor="middle" fontFamily={LABEL_FONT} fontSize={22} fill="#ccc">{limitNames[i]}</text>
      ))}
      <rect x={left} y={top} width={panelW} height={panelH} fill="none" stroke="#1a1a1a" strokeWidth={1.6} />
      {x.ticks(25).filter(t => t > 7.5 && t < 10).map(t => {
        const major = xMajor.some(m => Math.abs(m - t) < 1e-6);
        return <line key={t} x1={x(t)} x2={x(t)} y1={top + panelH} y2={top + panelH - (major ? 10 : 5)} stroke="#1a1a1a" strokeWidth={1} />;
      })}
      {y.ticks(22).filter(t => t > 27.25 && t < 29.5).map(t => {
        const major = yMajor.some(m => Math.abs(m - t) < 1e-6);
        return <line key={t} x1={left} x2={left + (major ? 10 : 5)} y1={y(t)} y2={y(t)} stroke="#1a1a1a" strokeWidth={1} />;
      })}
      {row === 1 && xMajor.map(t => (
        <text key={t} x={x(t)} y={top + panelH + 29} textAnchor="middle" fontFamily={LABEL_FONT} fontSize={24.5} fill="#000">{t.toFixed(1)}</text>
      ))}
      {col === 0 && yMajor.map(t => (
        <text key={t} x={left - 13} y={y(t) + 8.5} textAnchor="end" fontFamily={LABEL_FONT} fontSize={24.5} fill="#000">{t.toFixed(1)}</text>
      ))}
      <text x={left + panelW / 2} y={top - 12} textAnchor="middle" fontFamily={LABEL_FONT} fontSize={25} fill="#000">{`z\u2009=\u2009${redshifts[idx]}`}</text>
    </g>
  );
}

function YLabel({ cy }: { cy: number }) {
  return (
    <text transform={`translate(83,${cy}) rotate(-90)`} textAnchor="middle" fontFamily={LABEL_FONT} fontSize={28.5} fill="#000">
      log<tspan fontSize={19} dy={5}>10</tspan>
      <tspan dy={-5}>(L</tspan><tspan fontSize={19} dy={5}>FUV</tspan>
      <tspan dy={-5}>/erg s</tspan><tspan fontSize={19} dy={-10}>{'\u2009−1'}</tspan>
      <tspan dy={10}>{'\u2009Hz'}</tspan><tspan fontSize={19} dy={-10}>{'\u2009−1'}</tspan>
      <tspan dy={10}>)</tspan>
    </text>
  );
}

function Colorbar() {
  const cbTop = tops[0];
  const cbBottom = tops[1] + panelH;
  const cy = d3.scaleLinear().domain([0, 3.9]).range([cbBottom, cbTop]);
  const stops = colorStops.map(s => s / 3.9);
  return (
    <g>
      <defs>
        <linearGradient id="cbGrad" x1="0" y1="1" x2="0" y2="0">
          {stops.map((o, i) => <stop key={i} offset={o} stopColor={colorValues[i]} />)}
        </linearGradient>
      </defs>
      <rect x={cbLeft} y={cbTop} width={cbW} height={cbBottom - cbTop} fill="url(#cbGrad)" stroke="#1a1a1a" strokeWidth={1.4} />
      {d3.range(1, 39).map(n => {
        const t = n / 10;
        const major = cbMajor.some(m => Math.abs(m - t) < 1e-6);
        return <line key={n} x1={cbLeft + cbW} x2={cbLeft + cbW - (major ? 10 : 5)} y1={cy(t)} y2={cy(t)} stroke="#1a1a1a" strokeWidth={1} />;
      })}
      {cbMajor.map(t => (
        <text key={t} x={1532} y={cy(t) + 7} fontFamily={CB_FONT} fontSize={18.3} fill="#000">{t.toFixed(1)}</text>
      ))}
      <text transform="translate(1594,498) rotate(-90)" textAnchor="middle" fontFamily={CB_FONT} fontSize={25} fill="#000">
        A<tspan fontSize={17.5} dy={4}>FUV</tspan>
      </text>
    </g>
  );
}

export default function App() {
  return (
    <svg width={1661} height={1074} style={{ position: 'absolute', left: 0, top: 0, display: 'block', background: '#fff' }}>
      {redshifts.map((_, i) => <Panel key={i} idx={i} />)}
      <YLabel cy={264.5} />
      <YLabel cy={728.5} />
      <Colorbar />
      <text x={830} y={1029} textAnchor="middle" fontFamily={LABEL_FONT} fontSize={28} fill="#000">
        log<tspan fontSize={19} dy={5}>10</tspan>
        <tspan dy={-5}>(M</tspan><tspan fontSize={15} dy={5} fontFamily={CB_FONT}>★</tspan>
        <tspan dy={-5}>/M</tspan><tspan fontSize={16} dy={5} fontFamily={CB_FONT}>⊙</tspan>
        <tspan dy={-5}>)</tspan>
      </text>
    </svg>
  );
}
